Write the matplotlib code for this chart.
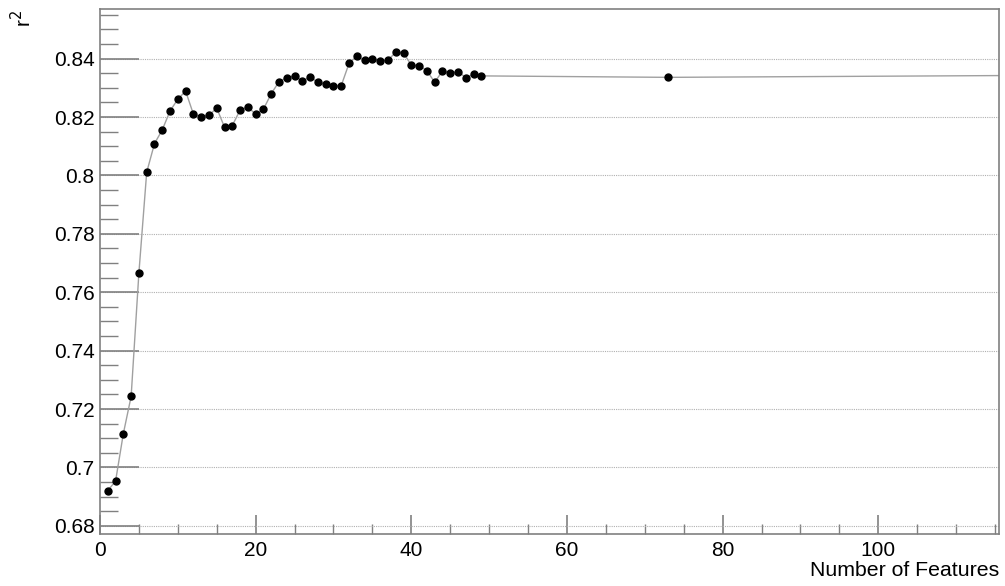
import matplotlib
matplotlib.use("Agg")
import matplotlib.pyplot as plt
from matplotlib.ticker import MultipleLocator, FixedLocator, FuncFormatter

n_features = list(range(1, 50)) + [73, 150]
r2_values = [
    0.6921, 0.6953, 0.7116, 0.7243, 0.7667, 0.8011, 0.8109, 0.8156, 0.8221, 0.8261,
    0.8289, 0.8210, 0.8201, 0.8206, 0.8231, 0.8165, 0.8171, 0.8224, 0.8235, 0.8209,
    0.8227, 0.8280, 0.8321, 0.8335, 0.8341, 0.8324, 0.8337, 0.8319, 0.8313, 0.8308,
    0.8308, 0.8384, 0.8409, 0.8395, 0.8398, 0.8393, 0.8395, 0.8422, 0.8419, 0.8378,
    0.8376, 0.8359, 0.8319, 0.8358, 0.8350, 0.8356, 0.8335, 0.8346, 0.8341,
    0.8336, 0.8347,
]
marker_x = n_features[:-1]
marker_y = r2_values[:-1]
y_ticks = [0.68, 0.70, 0.72, 0.74, 0.76, 0.78, 0.80, 0.82, 0.84]
x_ticks = [0, 20, 40, 60, 80, 100]

plt.rcParams['font.family'] = ['Liberation Sans', 'DejaVu Sans']

fig = plt.figure(figsize=(10.05, 5.86), dpi=100)
ax = fig.add_axes([0.0995, 0.0887, 0.8945, 0.8959])

ax.plot(n_features, r2_values, color='#a0a0a0', lw=1.0, zorder=2)
ax.plot(marker_x, marker_y, 'o', color='black', ms=5, zorder=3, linestyle='none')

ax.set_xlim(0, 115.5)
ax.set_ylim(0.6772, 0.857)

ax.yaxis.set_major_locator(FixedLocator(y_ticks))
ax.yaxis.set_minor_locator(MultipleLocator(0.005))
ax.xaxis.set_major_locator(FixedLocator(x_ticks))
ax.xaxis.set_minor_locator(MultipleLocator(5))
ax.yaxis.set_major_formatter(FuncFormatter(lambda v, p: ('%g' % round(v, 4))))

ax.grid(axis='y', which='major', color='#b0b0b0', linestyle=(0, (1, 1)), lw=0.8, zorder=1)

for s in ax.spines.values():
    s.set_color('#808080')
    s.set_linewidth(1.2)

ax.tick_params(axis='y', which='major', direction='in', length=28, width=1.2, color='#808080',
               labelsize=15, pad=4, right=False)
ax.tick_params(axis='y', which='minor', direction='in', length=13, width=1.0, color='#808080', right=False)
ax.tick_params(axis='x', which='major', direction='in', length=14, width=1.2, color='#808080',
               labelsize=15, pad=5, top=False)
ax.tick_params(axis='x', which='minor', direction='in', length=7, width=1.0, color='#808080', top=False)

ax.set_xlabel('Number of Features', fontsize=15.3, loc='right', labelpad=1)
fig.text(0.022, 0.983, 'r$^2$', rotation=90, ha='center', va='top', fontsize=15)

fig.savefig('out.png', dpi=100)
